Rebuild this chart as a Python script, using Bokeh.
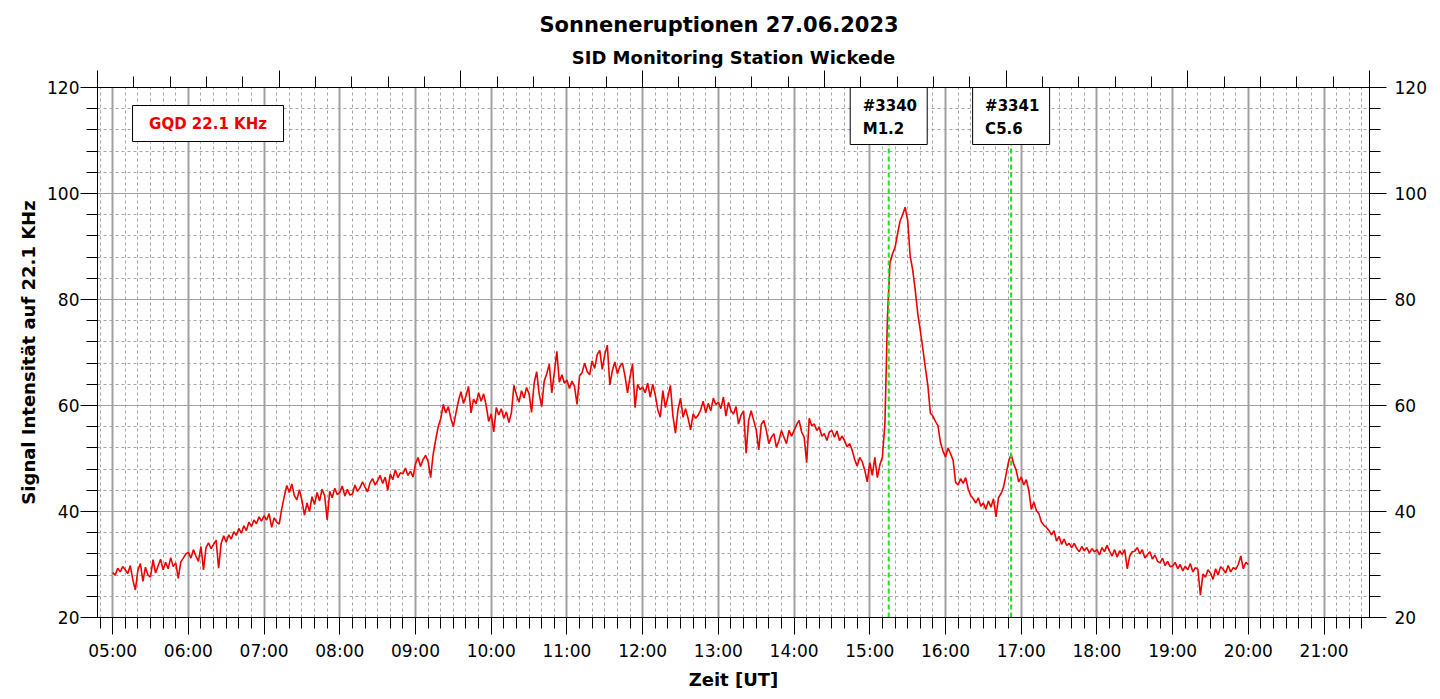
from bokeh.plotting import figure
from bokeh.models import Range1d, LinearAxis, FixedTicker, Title
from bokeh.embed import file_html
from bokeh.resources import INLINE
from bokeh.core.properties import value

# ---------------- data (2-minute samples) ----------------
start_hour = 5.0
step_minutes = 2

signal_h05 = [28.5, 28.0, 29.3, 28.6, 29.6, 29.0, 28.3, 29.8, 27.1, 25.2, 28.9, 30.2, 26.8, 29.5, 28.0,
              27.6, 30.9, 28.4, 29.7, 31.0, 29.0, 30.4, 29.2, 31.3, 29.6, 30.3, 27.4, 30.5, 31.2, 32.0]
signal_h06 = [32.3, 31.2, 32.8, 31.6, 30.6, 33.4, 29.0, 33.2, 34.1, 33.0, 33.8, 34.6, 29.3, 34.0, 35.4,
              34.2, 35.6, 34.8, 36.2, 35.5, 36.8, 35.9, 37.3, 36.4, 38.0, 37.2, 38.4, 37.7, 39.0, 38.2]
signal_h07 = [39.2, 38.4, 39.6, 37.0, 38.8, 38.0, 37.6, 40.5, 42.8, 44.9, 43.6, 45.2, 43.0, 42.2, 44.1,
              42.1, 39.3, 41.6, 40.0, 42.8, 41.3, 43.6, 42.0, 44.2, 43.0, 38.4, 43.8, 42.6, 44.4, 43.2]
signal_h08 = [43.6, 44.8, 42.9, 44.2, 43.1, 43.3, 45.0, 43.8, 44.5, 45.6, 44.6, 43.7, 45.4, 46.2, 45.0,
              45.8, 46.8, 45.3, 46.5, 44.0, 47.1, 46.0, 47.9, 46.4, 47.3, 47.1, 48.2, 46.8, 47.6, 46.5]
signal_h09 = [49.0, 50.2, 48.5, 49.8, 50.6, 49.4, 46.4, 50.8, 53.5, 56.0, 57.5, 60.2, 58.6, 59.8, 57.6,
              56.0, 58.5, 60.8, 62.6, 60.4, 61.8, 63.6, 58.6, 61.2, 60.3, 62.4, 60.8, 62.2, 60.0, 57.0]
signal_h10 = [58.4, 55.0, 59.6, 58.2, 59.4, 57.6, 58.8, 56.8, 58.6, 63.8, 62.0, 60.6, 62.8, 61.4, 63.4,
              62.2, 58.7, 64.2, 66.4, 62.2, 59.8, 64.6, 66.0, 67.8, 62.4, 66.2, 70.2, 64.4, 65.8, 64.2]
signal_h11 = [64.8, 63.2, 64.6, 63.6, 60.2, 65.6, 66.2, 68.0, 66.4, 65.8, 68.4, 67.0, 69.6, 70.4, 66.8,
              69.6, 71.4, 63.9, 66.6, 68.2, 66.0, 67.4, 68.0, 65.6, 62.4, 65.4, 67.8, 59.6, 64.0, 63.0]
signal_h12 = [63.5, 62.4, 64.2, 61.6, 64.0, 62.0, 59.2, 57.8, 62.8, 59.6, 61.6, 63.8, 58.0, 54.8, 59.2,
              61.4, 57.8, 59.4, 57.6, 55.4, 58.4, 57.6, 58.2, 59.2, 60.8, 58.6, 60.4, 59.0, 61.4, 60.2]
signal_h13 = [60.6, 59.4, 61.6, 58.0, 60.6, 59.0, 58.4, 59.8, 56.5, 58.2, 59.0, 51.0, 57.2, 59.0, 57.2,
              55.4, 51.6, 56.4, 57.2, 55.3, 52.8, 54.0, 54.7, 52.1, 53.4, 55.3, 54.0, 52.8, 55.3, 54.2]
signal_h14 = [55.3, 56.4, 57.2, 55.0, 54.0, 49.2, 57.6, 56.2, 56.5, 55.3, 55.9, 54.2, 54.7, 53.4, 55.0,
              55.3, 54.0, 55.2, 53.4, 54.2, 53.4, 52.2, 52.8, 51.6, 49.8, 48.6, 50.2, 49.4, 47.8, 45.6]
signal_h15 = [49.2, 46.8, 50.2, 46.4, 48.8, 50.3, 56.6, 76.6, 87.0, 88.6, 89.8, 92.4, 94.8, 96.0, 97.4,
              95.0, 88.2, 85.6, 81.8, 77.4, 74.2, 70.8, 67.2, 63.8, 58.6, 58.0, 57.0, 56.2, 53.0, 51.4]
signal_h16 = [50.3, 52.0, 50.9, 49.7, 45.5, 45.0, 46.2, 45.3, 46.4, 44.2, 43.0, 42.4, 41.6, 42.6, 41.0,
              41.6, 40.4, 42.0, 40.8, 42.4, 39.0, 42.6, 43.4, 44.6, 47.0, 49.4, 50.8, 49.0, 47.8, 45.6]
signal_h17 = [46.5, 45.0, 46.0, 44.0, 40.4, 41.8, 40.2, 39.6, 38.0, 37.4, 37.0, 36.4, 35.6, 36.4, 34.4,
              35.3, 33.8, 34.8, 33.6, 34.0, 33.2, 34.0, 33.0, 32.4, 33.4, 32.6, 33.2, 32.2, 33.0, 32.4]
signal_h18 = [32.8, 31.8, 33.2, 32.4, 33.6, 32.5, 31.6, 32.8, 31.4, 32.6, 31.9, 32.8, 29.2, 31.6, 32.4,
              32.5, 33.2, 32.0, 32.8, 31.2, 31.9, 32.4, 31.0, 31.8, 30.6, 30.3, 31.2, 29.8, 30.6, 29.6]
signal_h19 = [29.7, 30.4, 29.2, 30.0, 28.8, 29.7, 29.0, 30.2, 28.6, 29.4, 29.1, 24.2, 28.2, 27.6, 29.0,
              28.4, 27.2, 29.2, 28.0, 29.6, 29.1, 28.4, 29.8, 28.6, 29.4, 29.1, 30.0, 31.6, 29.2, 30.4]
signal_h20 = [30.0]

signal = (signal_h05 + signal_h06 + signal_h07 + signal_h08 + signal_h09 + signal_h10 + signal_h11
          + signal_h12 + signal_h13 + signal_h14 + signal_h15 + signal_h16 + signal_h17 + signal_h18
          + signal_h19 + signal_h20)
hours = [start_hour + i * step_minutes / 60.0 for i in range(len(signal))]

hour_ticks = [5, 6, 7, 8, 9, 10, 11, 12, 13, 14, 15, 16, 17, 18, 19, 20, 21]
hour_labels = ["05:00", "06:00", "07:00", "08:00", "09:00", "10:00", "11:00", "12:00", "13:00",
               "14:00", "15:00", "16:00", "17:00", "18:00", "19:00", "20:00", "21:00"]
y_ticks = [20, 40, 60, 80, 100, 120]

flare_times = [15 + 15 / 60.0, 16 + 52 / 60.0]
flare_numbers = ["#3340", "#3341"]
flare_classes = ["M1.2", "C5.6"]

legend_text = "GQD 22.1 KHz"
title_text = "Sonneneruptionen 27.06.2023"
subtitle_text = "SID Monitoring Station Wickede"
x_label = "Zeit [UT]"
y_label = "Signal Intensität auf 22.1 KHz"

# ---------------- figure ----------------
FONT = "DejaVu Sans"
X0, X1 = 4.8, 21.6
Y0, Y1 = 20, 120
PX_PER_UNIT = 530 / (Y1 - Y0)

p = figure(width=1436, height=697, x_range=Range1d(X0, X1), y_range=Range1d(Y0, Y1),
           output_backend="svg", toolbar_location=None, title=None,
           min_border_left=97, min_border_right=67, min_border_top=87, min_border_bottom=80)
p.background_fill_color = "white"
p.border_fill_color = "white"
p.outline_line_color = "black"

minor_x = [h / 6.0 for h in range(29, 130) if h % 6 != 0]
minor_y = [v for v in range(20, 121, 4) if v % 20 != 0]
x_ticker = FixedTicker(ticks=hour_ticks, minor_ticks=minor_x)
y_ticker = FixedTicker(ticks=y_ticks, minor_ticks=minor_y)


def style_axis(ax):
    ax.axis_line_color = "black"
    ax.axis_line_width = 1
    ax.major_tick_line_color = "black"
    ax.minor_tick_line_color = "black"
    ax.major_tick_out = 17
    ax.major_tick_in = 0
    ax.minor_tick_out = 11
    ax.minor_tick_in = 0
    ax.major_label_text_font = FONT
    ax.major_label_text_font_size = "17px"
    ax.major_label_text_color = "black"
    ax.axis_label_text_font = FONT
    ax.axis_label_text_font_size = "18px"
    ax.axis_label_text_font_style = "bold"
    ax.axis_label_text_color = "black"


xa = p.xaxis[0]
xa.ticker = x_ticker
xa.major_label_overrides = {t: lab for t, lab in zip(hour_ticks, hour_labels)}
xa.axis_label = x_label
style_axis(xa)
xa.major_label_standoff = 6
xa.axis_label_standoff = 5

ya = p.yaxis[0]
ya.ticker = y_ticker
ya.axis_label = y_label
style_axis(ya)
ya.major_label_standoff = 1
ya.axis_label_standoff = 5

ra = LinearAxis(ticker=y_ticker)
style_axis(ra)
ra.major_label_standoff = 8
p.add_layout(ra, "right")

# unlabeled top scale
top_ticks = [0, 1, 2, 3, 4, 5, 6, 7]
p.extra_x_ranges = {"top": Range1d(0, 7)}
ta = LinearAxis(x_range_name="top",
                ticker=FixedTicker(ticks=top_ticks, minor_ticks=[i / 5.0 for i in range(36)]))
style_axis(ta)
ta.major_label_overrides = {t: "" for t in top_ticks}
ta.major_label_standoff = 0
p.add_layout(ta, "above")

p.add_layout(Title(text=subtitle_text, align="center", text_font=FONT, text_font_size="18px",
                   text_font_style="bold", text_color="black", standoff=6), "above")
p.add_layout(Title(text=title_text, align="left", text_font=FONT, text_font_size="21px",
                   text_font_style="bold", text_color="black", standoff=9, offset=442), "above")

# grids
p.xgrid.ticker = x_ticker
p.xgrid.grid_line_color = "#a0a0a0"
p.xgrid.grid_line_width = 2
p.xgrid.minor_grid_line_color = "#a4a4a4"
p.xgrid.minor_grid_line_width = 1
p.xgrid.minor_grid_line_dash = "3 3"
p.ygrid.ticker = y_ticker
p.ygrid.grid_line_color = "#a0a0a0"
p.ygrid.grid_line_width = 1
p.ygrid.minor_grid_line_color = "#a4a4a4"
p.ygrid.minor_grid_line_width = 1
p.ygrid.minor_grid_line_dash = "3 3"

# signal
p.line(hours, signal, line_color="#ee0000", line_width=1.6)

# flare markers
box_h_units = 57 / PX_PER_UNIT
box_bottom = Y1 - box_h_units
p.segment(x0=flare_times, y0=[Y0] * 2, x1=flare_times, y1=[box_bottom] * 2,
          line_color="#22dd22", line_width=2, line_dash="5 3")
p.rect(x=flare_times, y=[Y1 - box_h_units / 2] * 2, width=77, height=57,
       width_units="screen", height_units="screen",
       fill_color="white", line_color="black", line_width=1)
p.text(x=flare_times, y=[Y1 - 18 / PX_PER_UNIT] * 2, text=flare_numbers, x_offset=-26,
       text_baseline="middle", text_align="left", text_font=value(FONT),
       text_font_style="bold", text_font_size="15px", text_color="black")
p.text(x=flare_times, y=[Y1 - 41 / PX_PER_UNIT] * 2, text=flare_classes, x_offset=-26,
       text_baseline="middle", text_align="left", text_font=value(FONT),
       text_font_style="bold", text_font_size="15px", text_color="black")

# legend box
leg_x = 6.26
leg_y = Y1 - 36 / PX_PER_UNIT
p.rect(x=[leg_x], y=[leg_y], width=151, height=36, width_units="screen", height_units="screen",
       fill_color="white", line_color="black", line_width=1)
p.text(x=[leg_x], y=[leg_y], text=[legend_text], text_align="center", text_baseline="middle",
       text_font=value(FONT), text_font_style="bold", text_font_size="15px", text_color="#ee0000")

open("out.html", "w").write(file_html(p, INLINE))
